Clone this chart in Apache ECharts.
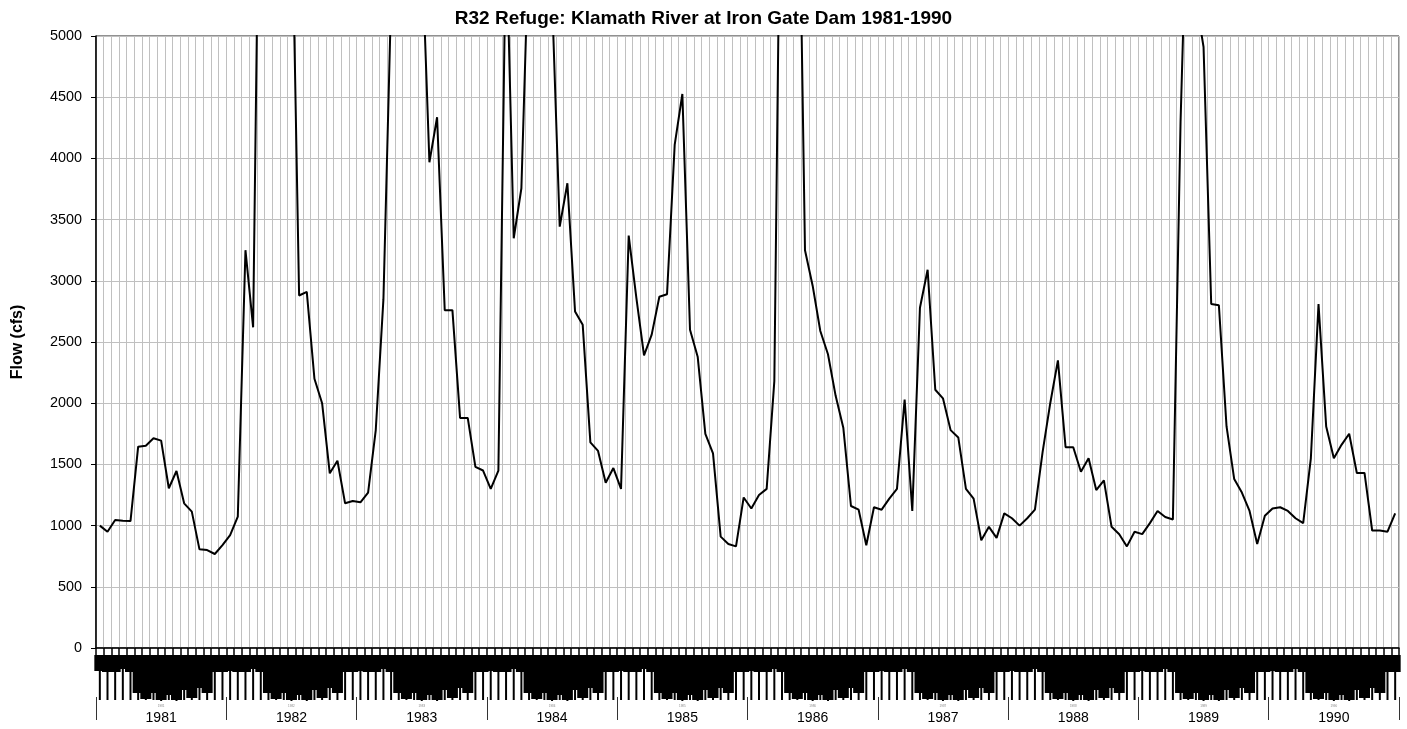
<!DOCTYPE html>
<html>
<head>
<meta charset="utf-8">
<title>R32 Refuge: Klamath River at Iron Gate Dam 1981-1990</title>
<script src="https://cdn.jsdelivr.net/npm/echarts@6.0.0/dist/echarts.min.js"></script>
<style>
  html, body { margin: 0; padding: 0; background: #fff; }
  #main { width: 1407px; height: 729px; }
</style>
</head>
<body>
<div id="main"></div>
<script>
// outer axis: one label per year
var years = ['1981', '1982', '1983', '1984', '1985', '1986', '1987', '1988', '1989', '1990'];
var stepsPerYear = 17;

// flow (cfs) per model time step, 17 steps each year
var flow1981 = [1000, 950, 1046, 1040, 1037, 1645, 1653, 1713, 1694, 1305, 1446, 1182, 1114, 806, 800, 768, 841];
var flow1982 = [923, 1073, 3250, 2620, 7600, 9500, 10000, 9000, 6300, 2880, 2910, 2200, 2000, 1427, 1530, 1182, 1201];
var flow1983 = [1190, 1269, 1781, 2850, 5300, 8000, 9000, 8000, 5745, 3968, 4336, 2760, 2760, 1880, 1880, 1480, 1450];
var flow1984 = [1300, 1450, 5900, 3347, 3756, 5850, 8000, 8500, 5320, 3442, 3797, 2750, 2640, 1680, 1610, 1350, 1470];
var flow1985 = [1300, 3370, 2860, 2390, 2560, 2870, 2890, 4110, 4526, 2600, 2380, 1750, 1590, 910, 850, 830, 1230];
var flow1986 = [1140, 1250, 1300, 2180, 7600, 9000, 7320, 3250, 2960, 2590, 2400, 2060, 1800, 1160, 1130, 840, 1150];
var flow1987 = [1130, 1220, 1300, 2030, 1120, 2780, 3090, 2110, 2040, 1780, 1720, 1300, 1220, 880, 990, 900, 1100];
var flow1988 = [1060, 1000, 1060, 1130, 1600, 2000, 2350, 1640, 1640, 1440, 1550, 1290, 1370, 990, 930, 830, 950];
var flow1989 = [930, 1020, 1120, 1070, 1050, 4300, 6500, 5300, 4910, 2810, 2800, 1810, 1380, 1270, 1120, 850, 1080];
var flow1990 = [1140, 1150, 1120, 1060, 1020, 1550, 2810, 1810, 1550, 1660, 1750, 1430, 1430, 960, 960, 950, 1100];

var flowByYear = [flow1981, flow1982, flow1983, flow1984, flow1985, flow1986, flow1987, flow1988, flow1989, flow1990];

var categories = [];
var flow = [];
years.forEach(function (y, i) {
  flowByYear[i].forEach(function (v, j) {
    categories.push(y + '-' + (j + 1));
    flow.push(v);
  });
});

// the step labels overlap into a black band under the axis
// depth in px for each step of a year, then thin tails down to tailDepth
var labelDepth = [16, 17, 17, 14, 17, 38, 44, 38, 45, 40, 45, 35, 43, 33, 38, 17, 17];
var tailDepth = 45;
var rich = {};
labelDepth.forEach(function (d, j) {
  rich['b' + j] = { width: d, height: 11, backgroundColor: '#000', fontSize: 1, color: '#000' };
  rich['t' + j] = { width: Math.max(tailDepth - d, 1), height: 2, backgroundColor: '#000', fontSize: 1, color: '#000' };
});

var myChart = echarts.init(document.getElementById('main'));

var option = {
  animation: false,
  textStyle: { fontFamily: 'Liberation Sans, Arial, sans-serif' },
  title: {
    text: 'R32 Refuge: Klamath River at Iron Gate Dam 1981-1990',
    left: 'center',
    top: 4,
    textStyle: { fontSize: 19, fontWeight: 'bold', color: '#000' }
  },
  grid: {
    left: 96,
    right: 8,
    top: 36,
    bottom: 81,
    show: true,
    borderColor: '#222',
    borderWidth: 1,
    outerBoundsMode: 'none'
  },
  xAxis: [
    {
      type: 'category',
      data: categories,
      position: 'bottom',
      boundaryGap: true,
      axisLine: { show: true, lineStyle: { color: '#000', width: 1.5 } },
      axisTick: { show: true, interval: 0, length: 7, lineStyle: { color: '#000', width: 1.5 } },
      axisLabel: {
        interval: 0,
        rotate: 90,
        margin: 7,
        formatter: function (value, index) {
          var j = index % stepsPerYear;
          return '{t' + j + '| }{b' + j + '| }';
        },
        rich: rich
      },
      splitLine: { show: true, interval: 0, lineStyle: { color: '#c0c0c0', width: 1 } }
    },
    {
      // year level, with the unreadable tiny copy of the year above it
      type: 'category',
      data: years,
      position: 'bottom',
      offset: 49,
      boundaryGap: true,
      axisLine: { show: false },
      axisTick: { show: true, interval: 0, length: 23, lineStyle: { color: '#333', width: 1 } },
      axisLabel: {
        interval: 0,
        margin: 5,
        formatter: function (value) {
          return '{d|' + value + '}\n{y|' + value + '}';
        },
        rich: {
          d: { fontSize: 3, lineHeight: 8, color: '#888' },
          y: { fontSize: 14, lineHeight: 16, color: '#000' }
        }
      },
      splitLine: { show: false }
    }
  ],
  yAxis: {
    type: 'value',
    min: 0,
    max: 5000,
    interval: 500,
    name: 'Flow (cfs)',
    nameLocation: 'middle',
    nameGap: 70,
    nameTextStyle: { fontSize: 16, fontWeight: 'bold', color: '#000' },
    axisLine: { show: true, lineStyle: { color: '#000', width: 1.5 } },
    axisTick: { show: true, length: 5, lineStyle: { color: '#000' } },
    axisLabel: {
      fontSize: 14.4,
      color: '#000',
      margin: 14,
      formatter: function (v) { return String(v); }
    },
    splitLine: { show: true, lineStyle: { color: '#c0c0c0', width: 1 } }
  },
  series: [
    {
      name: 'Flow',
      type: 'line',
      xAxisIndex: 0,
      data: flow,
      symbol: 'none',
      clip: true,
      lineStyle: { color: '#000', width: 2 }
    }
  ]
};
option && myChart.setOption(option);
</script>
</body>
</html>
